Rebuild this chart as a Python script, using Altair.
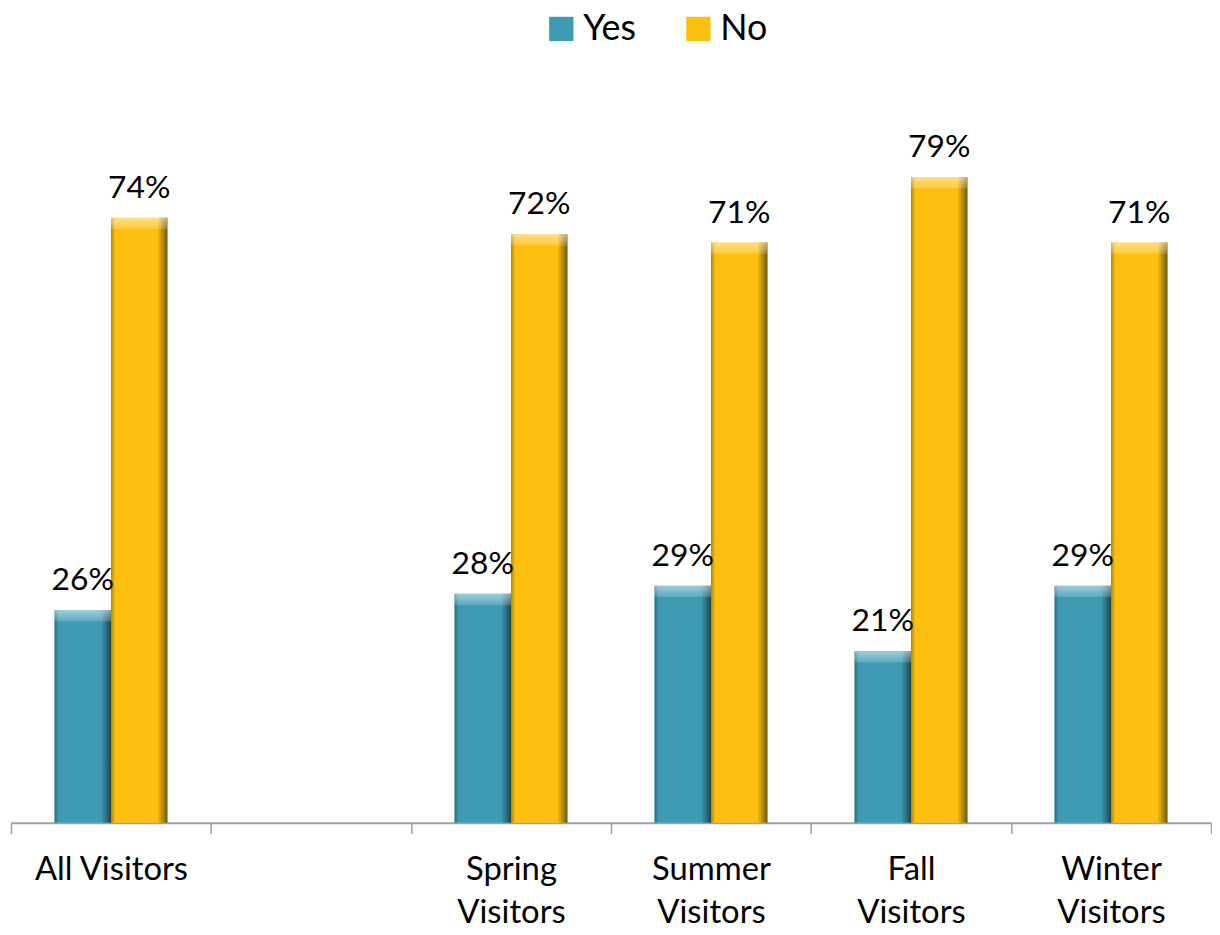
import altair as alt
import pandas as pd

domain_cats = ["All Visitors", " ", "Spring|Visitors", "Summer|Visitors", "Fall|Visitors", "Winter|Visitors"]
categories = ["All Visitors", "Spring|Visitors", "Summer|Visitors", "Fall|Visitors", "Winter|Visitors"]
yes_vals = [26, 28, 29, 21, 29]
no_vals = [74, 72, 71, 79, 71]
series = ["Yes", "No"]
colors = ["#3e9bb4", "#fdc010"]

rows = []
for c, y, n in zip(categories, yes_vals, no_vals):
    rows.append({"cat": c, "series": "Yes", "value": y})
    rows.append({"cat": c, "series": "No", "value": n})
df = pd.DataFrame(rows)

FONT = "Lato"

x_enc = alt.X(
    "cat:N",
    scale=alt.Scale(domain=domain_cats, paddingInner=0, paddingOuter=0),
    sort=domain_cats,
    axis=alt.Axis(
        title=None, labelAngle=0, tickBand="extent", labelExpr="split(datum.label, '|')",
        labelFont=FONT, labelFontSize=33, labelColor="#000", labelLineHeight=44,
        labelPadding=20, domainColor="#a0a0a0", domainWidth=2, tickColor="#a0a0a0",
        tickWidth=1.5, tickSize=11, grid=False,
    ),
)
xo_enc = alt.XOffset("series:N", sort=series, scale=alt.Scale(domain=series, paddingOuter=0.77, paddingInner=0))
y_enc = alt.Y("value:Q", scale=alt.Scale(domain=[0, 88], nice=False), axis=None)

base = alt.Chart(df)

bars = base.mark_bar().encode(
    x=x_enc, xOffset=xo_enc, y=y_enc,
    color=alt.Color(
        "series:N", sort=series,
        scale=alt.Scale(domain=series, range=colors),
        legend=alt.Legend(
            title=None, orient="none", legendX=536, legendY=-93, direction="horizontal",
            labelFont=FONT, labelFontSize=36, labelColor="#000", symbolType="square",
            symbolSize=600, symbolStrokeWidth=0, labelOffset=4, columnPadding=44,
        ),
    ),
)

shade = base.mark_bar(
    fill=alt.Gradient(
        gradient="linear", x1=0, x2=1, y1=0, y2=0,
        stops=[
            alt.GradientStop(color="rgba(0,0,0,0.30)", offset=0),
            alt.GradientStop(color="rgba(0,0,0,0)", offset=0.08),
            alt.GradientStop(color="rgba(0,0,0,0)", offset=0.82),
            alt.GradientStop(color="rgba(0,0,0,0.55)", offset=1),
        ],
    )
).encode(x=x_enc, xOffset=xo_enc, y=y_enc)

top_bevel = base.transform_calculate(bev="datum.value - 1.4").mark_bar(
    fill=alt.Gradient(
        gradient="linear", x1=0, x2=0, y1=0, y2=1,
        stops=[
            alt.GradientStop(color="rgba(255,255,255,0.5)", offset=0),
            alt.GradientStop(color="rgba(255,255,255,0.15)", offset=1),
        ],
    )
).encode(x=x_enc, xOffset=xo_enc, y=y_enc, y2="bev:Q")

labels = base.transform_calculate(lbl="datum.value + '%'").mark_text(
    font=FONT, fontSize=32, color="#000", baseline="alphabetic", dy=-20
).encode(x=x_enc, xOffset=xo_enc, y=y_enc, text="lbl:N")

chart = alt.layer(bars, shade, top_bevel, labels).properties(
    width=1208, height=724, padding={"left": 2, "top": 0, "right": 0, "bottom": 2}
).configure_view(stroke=None)

chart.save("out.html", embed_options={"renderer": "svg", "actions": False})
